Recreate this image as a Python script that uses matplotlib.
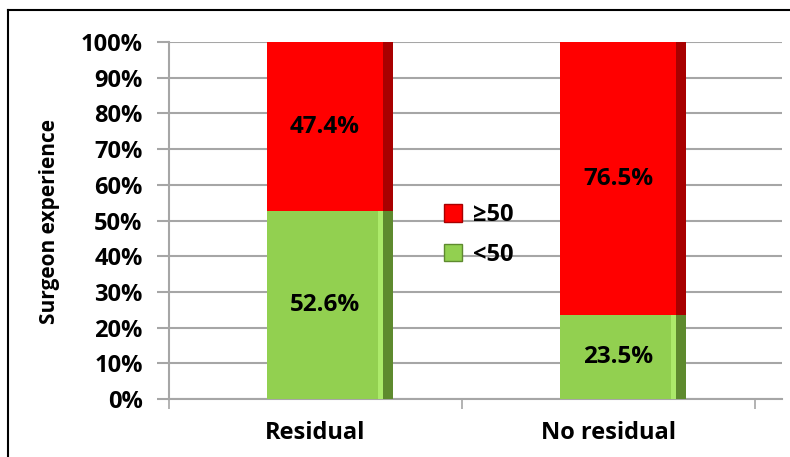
import matplotlib
matplotlib.use("Agg")
import matplotlib.pyplot as plt
from matplotlib.lines import Line2D
from matplotlib.patches import Patch
import numpy as np

categories = ["Residual", "No residual"]
lt50 = [52.6, 23.5]
ge50 = [47.4, 76.5]
series_labels = ["\u226550", "<50"]
yticks = [0, 10, 20, 30, 40, 50, 60, 70, 80, 90, 100]

FONT = ["Open Sans", "DejaVu Sans"]
plt.rcParams["font.family"] = FONT

RED, RED_D = "#FF0000", "#A80000"
GRN, GRN_D, GRN_L = "#92D050", "#5E8A2E", "#ACEA6A"

fig = plt.figure(figsize=(7.9, 4.57), dpi=100)
ax = fig.add_axes([169/790, 1-399/457, (782-169)/790, (399-42)/457])

x = np.arange(len(categories))
off, w = 0.048, 0.43
strip = 0.031
hl = 0.02
lo = np.array(lt50) / 100
hi = np.array(ge50) / 100

# front faces
ax.bar(x + off, lo, width=w, color=GRN, zorder=3)
ax.bar(x + off, hi, bottom=lo, width=w, color=RED, zorder=3)
# side shading strips
right = x + off + w/2
ax.bar(right - strip/2, lo, width=strip, color=GRN_D, zorder=4)
ax.bar(right - strip/2, hi, bottom=lo, width=strip, color=RED_D, zorder=4)
ax.bar(right - strip - hl/2, lo, width=hl, color=GRN_L, zorder=4)

# data labels
face_c = x + off - strip/2
for i in range(len(categories)):
    ax.text(face_c[i], lo[i]/2, f"{lt50[i]}%", ha="center", va="center",
            fontsize=17.5, fontweight="bold", zorder=5)
    ax.text(face_c[i], lo[i] + hi[i]/2, f"{ge50[i]}%", ha="center", va="center",
            fontsize=17.5, fontweight="bold", zorder=5)

ax.set_xlim(-0.5, 1.5 + 27/293)
ax.set_ylim(0, 1)
ax.set_yticks(np.array(yticks)/100)
ax.set_yticklabels([f"{v}%" for v in yticks], fontsize=17, fontweight="bold")
ax.yaxis.grid(True, color="#A6A6A6", linewidth=1.5, zorder=0)
ax.tick_params(axis="y", length=9, width=1.5, color="#A6A6A6", pad=10)

ax.set_xticks(x)
ax.set_xticklabels(categories, fontsize=17, fontweight="bold")
ax.set_xticks([-0.5, 0.5, 1.5], minor=True)
ax.tick_params(axis="x", which="major", length=0, pad=16)
ax.tick_params(axis="x", which="minor", length=7, width=1.2, color="#A6A6A6")

for s in ["top", "right"]:
    ax.spines[s].set_visible(False)
for s in ["left", "bottom"]:
    ax.spines[s].set_color("#A6A6A6")
    ax.spines[s].set_linewidth(1.5)

fig.text(50/790, 1-222/457, "Surgeon experience", rotation=90, ha="center",
         va="center", fontsize=15, fontweight="bold")

handles = [Patch(facecolor=RED, edgecolor=RED_D), Patch(facecolor=GRN, edgecolor=GRN_D)]
leg = fig.legend(handles, series_labels, loc="center left",
                 bbox_to_anchor=(423/790, 1-235/457), frameon=False,
                 prop={"size": 17, "weight": "bold"}, handlelength=0.75,
                 handleheight=0.75, handletextpad=0.45, labelspacing=0.65)

fig.add_artist(Line2D([8/790, 1.0], [1-10/457, 1-10/457], color="black", linewidth=1.5))
fig.add_artist(Line2D([8/790, 8/790], [0, 1-10/457], color="black", linewidth=1.5))

fig.savefig("out.png", dpi=100)
